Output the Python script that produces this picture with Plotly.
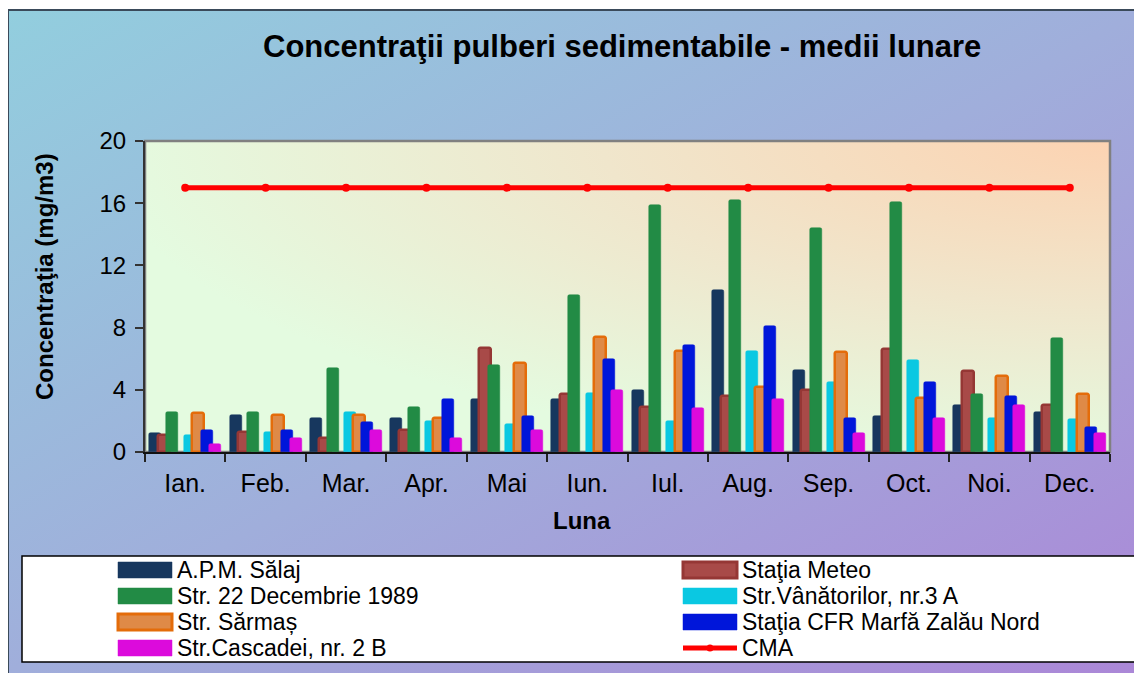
import base64
import plotly.graph_objects as go

# ---------------- data ----------------
months = ["Ian.", "Feb.", "Mar.", "Apr.", "Mai", "Iun.", "Iul.", "Aug.", "Sep.", "Oct.", "Noi.", "Dec."]
apm_salaj = [1.2, 2.4, 2.2, 2.2, 3.4, 3.4, 4.0, 10.4, 5.3, 2.3, 3.0, 2.6]
statia_meteo = [1.1, 1.3, 0.9, 1.4, 6.7, 3.7, 2.9, 3.6, 4.0, 6.6, 5.2, 3.0]
str_22_dec = [2.6, 2.6, 5.4, 2.9, 5.6, 10.1, 15.9, 16.2, 14.4, 16.1, 3.7, 7.3]
str_vanatorilor = [1.1, 1.3, 2.6, 2.0, 1.8, 3.8, 2.0, 6.5, 4.5, 5.9, 2.2, 2.1]
str_sarmas = [2.5, 2.4, 2.4, 2.2, 5.7, 7.4, 6.5, 4.2, 6.4, 3.5, 4.9, 3.7]
statia_cfr = [1.4, 1.4, 1.9, 3.4, 2.3, 6.0, 6.9, 8.1, 2.2, 4.5, 3.6, 1.6]
str_cascadei = [0.5, 0.9, 1.4, 0.9, 1.4, 4.0, 2.8, 3.4, 1.2, 2.2, 3.0, 1.2]
cma = [17, 17, 17, 17, 17, 17, 17, 17, 17, 17, 17, 17]
y_ticks = [0, 4, 8, 12, 16, 20]

series = [
    ("A.P.M. Sălaj", apm_salaj, "#17375E", "#17375E", 0),
    ("Staţia Meteo", statia_meteo, "#A84A48", "#953735", 1),
    ("Str. 22 Decembrie 1989", str_22_dec, "#228B45", "#228B45", 2),
    ("Str.Vânătorilor, nr.3 A", str_vanatorilor, "#0AC8E2", "#0AC8E2", 4),
    ("Str. Sărmaș", str_sarmas, "#DF8A47", "#E46C0A", 5),
    ("Staţia CFR Marfă Zalău Nord", statia_cfr, "#0016DA", "#0016DA", 6),
    ("Str.Cascadei, nr. 2 B", str_cascadei, "#DC0ADC", "#DC0ADC", 7),
]

# ---------------- geometry ----------------
# the page body has an 8px margin, so the figure is drawn 8px smaller and offset
OFF = 8
W, H = 1142 - OFF, 673 - OFF
L, R, T, B = 145 - OFF, 1110 - OFF, 141 - OFF, 452 - OFF
PW, PH = R - L, B - T


def xp(px):  # px in reference-page coordinates
    return (px - OFF - L) / PW


def yp(py):
    return (B - (py - OFF)) / PH


FONT = "Liberation Sans, Arial, sans-serif"

fig = go.Figure()

step = 0.1066
bw = 0.149
for name, vals, fill, edge, slot in series:
    thick = edge != fill
    fig.add_trace(go.Bar(
        name=name, x=months, y=vals,
        width=bw, offset=(slot - 3.5) * step - bw / 2,
        marker=dict(color=fill, line=dict(color=edge, width=2.5 if thick else 0.5),
                    cornerradius=2),
        showlegend=False,
    ))

fig.add_trace(go.Scatter(
    name="CMA", x=months, y=cma, mode="lines+markers",
    line=dict(color="#FF0000", width=5),
    marker=dict(color="#FF0000", size=8),
    showlegend=False,
))

# ---------------- backgrounds ----------------
bg_svg = ('<svg xmlns="http://www.w3.org/2000/svg" width="100" height="100" viewBox="0 0 100 100" '
          'preserveAspectRatio="none"><defs><linearGradient id="g" x1="0" y1="0" x2="1" y2="1">'
          '<stop offset="0" stop-color="#92CEDE"/><stop offset="0.5" stop-color="#A0AEDB"/>'
          '<stop offset="1" stop-color="#AB87D7"/></linearGradient></defs>'
          '<rect width="100" height="100" fill="url(#g)"/></svg>')
plot_svg = ('<svg xmlns="http://www.w3.org/2000/svg" width="100" height="100" viewBox="0 0 100 100" '
            'preserveAspectRatio="none"><defs><radialGradient id="p" cx="1" cy="0" r="1.05">'
            '<stop offset="0" stop-color="#FCD3B2"/><stop offset="0.5" stop-color="#F0E6CC"/>'
            '<stop offset="1" stop-color="#E4FBE0"/></radialGradient></defs>'
            '<rect width="100" height="100" fill="url(#p)"/></svg>')


def uri(s):
    return "data:image/svg+xml;base64," + base64.b64encode(s.encode()).decode()


images = [
    dict(source=uri(bg_svg), xref="paper", yref="paper", x=xp(7), y=yp(10),
         sizex=(1142 - 7) / PW, sizey=(673 - 10) / PH, sizing="stretch", layer="below",
         xanchor="left", yanchor="top"),
    dict(source=uri(plot_svg), xref="paper", yref="paper", x=0, y=1,
         sizex=1, sizey=1, sizing="stretch", layer="below", xanchor="left", yanchor="top"),
]

shapes = [
    # outer frame (left & top)
    dict(type="line", xref="paper", yref="paper", x0=xp(8), x1=xp(8), y0=yp(10), y1=yp(680),
         line=dict(color="#3A4A5A", width=2), layer="below"),
    dict(type="line", xref="paper", yref="paper", x0=xp(8), x1=xp(1150), y0=yp(10), y1=yp(10),
         line=dict(color="#3A4A5A", width=2), layer="below"),
    # plot border
    dict(type="rect", xref="paper", yref="paper", x0=0, x1=1, y0=0, y1=1,
         line=dict(color="#808080", width=2.5), layer="below"),
    # legend box
    dict(type="rect", xref="paper", yref="paper", x0=xp(22), x1=xp(1160), y0=yp(556), y1=yp(662),
         fillcolor="white", line=dict(color="black", width=1.5), layer="below"),
]

annotations = [
    dict(text="<b>Concentraţii pulberi sedimentabile - medii lunare</b>", xref="paper", yref="paper",
         x=xp(622), y=yp(47), showarrow=False, xanchor="center", yanchor="middle",
         font=dict(family=FONT, size=31, color="black")),
    dict(text="<b>Concentraţia (mg/m3)</b>", xref="paper", yref="paper", textangle=-90,
         x=xp(44), y=yp(277), showarrow=False, xanchor="center", yanchor="middle",
         font=dict(family=FONT, size=24, color="black")),
    dict(text="<b>Luna</b>", xref="paper", yref="paper",
         x=xp(582), y=yp(520), showarrow=False, xanchor="center", yanchor="middle",
         font=dict(family=FONT, size=24, color="black")),
]

# custom legend
legend_items = [(s[0], s[2], s[3]) for s in series] + [("CMA", None, "#FF0000")]
rows = [570, 596, 622, 648]
cols = [(118, 172), (683, 737)]
for i, (name, fill, edge) in enumerate(legend_items):
    r, c = divmod(i, 2)
    yc = rows[r]
    x0, x1 = cols[c]
    if fill is not None:
        thick = edge != fill
        shapes.append(dict(type="rect", xref="paper", yref="paper",
                           x0=xp(x0), x1=xp(x1), y0=yp(yc + 8), y1=yp(yc - 8),
                           fillcolor=fill, line=dict(color=edge, width=3 if thick else 0.5),
                           layer="above"))
    else:
        shapes.append(dict(type="line", xref="paper", yref="paper",
                           x0=xp(x0), x1=xp(x1), y0=yp(yc), y1=yp(yc),
                           line=dict(color=edge, width=5), layer="above"))
        mx = (x0 + x1) / 2
        shapes.append(dict(type="circle", xref="paper", yref="paper",
                           x0=xp(mx - 3.5), x1=xp(mx + 3.5), y0=yp(yc + 3.5), y1=yp(yc - 3.5),
                           fillcolor=edge, line=dict(color=edge, width=0), layer="above"))
    annotations.append(dict(text=name, xref="paper", yref="paper", x=xp(x1 + 3), y=yp(yc),
                            xanchor="left", yanchor="middle", showarrow=False,
                            font=dict(family=FONT, size=23, color="black")))

fig.update_layout(
    width=W, height=H,
    margin=dict(l=L, r=W - R, t=T, b=H - B, pad=0),
    paper_bgcolor="white",
    plot_bgcolor="rgba(0,0,0,0)",
    barmode="overlay",
    bargap=0,
    showlegend=False,
    images=images,
    shapes=shapes,
    annotations=annotations,
    font=dict(family=FONT, color="black"),
    xaxis=dict(
        type="category", range=[-0.5, 11.5], tickson="boundaries",
        ticks="outside", ticklen=8, tickwidth=1.5, tickcolor="#222",
        showline=True, linecolor="#111", linewidth=2, showgrid=False, zeroline=False,
        tickfont=dict(family=FONT, size=25, color="black"), ticklabelstandoff=8,
    ),
    yaxis=dict(
        range=[0, 20], tickvals=y_ticks, ticks="outside", ticklen=8, tickwidth=1.5,
        tickcolor="#333", showline=True, linecolor="#333", linewidth=2,
        showgrid=False, zeroline=False,
        tickfont=dict(family=FONT, size=24, color="black"), ticklabelstandoff=4,
    ),
)

fig.write_html("out.html")
